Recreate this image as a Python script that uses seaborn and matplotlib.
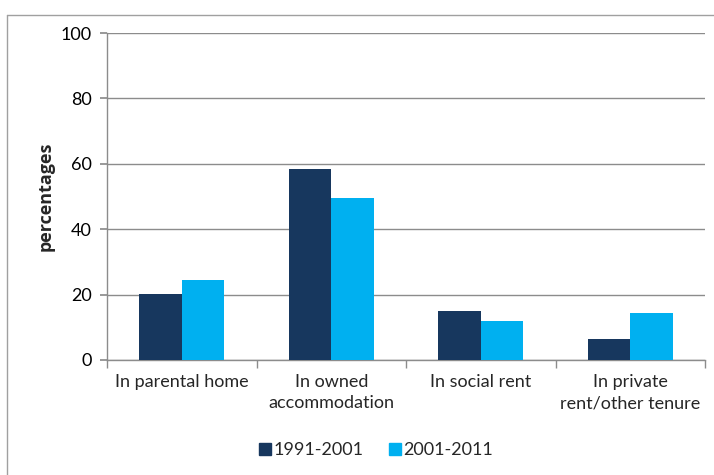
import matplotlib
matplotlib.use("Agg")
import matplotlib.pyplot as plt
import seaborn as sns
import pandas as pd
from matplotlib.lines import Line2D

categories = ["In parental home", "In owned\naccommodation", "In social rent", "In private\nrent/other tenure"]
series_names = ["1991-2001", "2001-2011"]
values_1991 = [20.2, 58.5, 15.0, 6.5]
values_2001 = [24.6, 49.5, 11.8, 14.4]
yticks = [0, 20, 40, 60, 80, 100]

colors = ["#17375E", "#00B0F0"]

rows = []
for c, v in zip(categories, values_1991):
    rows.append({"category": c, "period": series_names[0], "value": v})
for c, v in zip(categories, values_2001):
    rows.append({"category": c, "period": series_names[1], "value": v})
df = pd.DataFrame(rows)

sns.set_theme(style="white")
plt.rcParams["font.family"] = ["Lato", "DejaVu Sans"]

fig = plt.figure(figsize=(7.14, 4.75), dpi=100)
ax = fig.add_axes([107/714, 1-360/475, (705-107)/714, (360-33)/475])

sns.barplot(data=df, x="category", y="value", hue="period", palette=colors,
            order=categories, hue_order=series_names, width=0.57, gap=0,
            saturation=1, ax=ax, legend=False, zorder=3, linewidth=0, edgecolor="none")

ax.set_xlim(-0.5, 3.5)
ax.set_ylim(0, 100)
ax.set_yticks(yticks)
ax.set_yticklabels([str(t) for t in yticks], fontsize=13, color="#000000")
ax.yaxis.grid(True, color="#8C8C8C", linewidth=1.0, zorder=0)
ax.set_axisbelow(True)

for s in ["top", "right"]:
    ax.spines[s].set_visible(False)
ax.spines["left"].set_color("#8C8C8C")
ax.spines["bottom"].set_color("#8C8C8C")
ax.spines["left"].set_linewidth(1.0)
ax.spines["bottom"].set_linewidth(1.0)

ax.tick_params(axis="y", which="major", length=5, color="#8C8C8C", direction="out", pad=6, left=True)
ax.set_xticks(range(len(categories)))
ax.set_xticklabels(categories, fontsize=13, linespacing=1.4)
ax.tick_params(axis="x", which="major", length=0, pad=10)
ax.set_xticks([-0.5, 0.5, 1.5, 2.5, 3.5], minor=True)
ax.tick_params(axis="x", which="minor", length=6, color="#8C8C8C", direction="out", bottom=True)

ax.set_xlabel("")
ax.set_ylabel("percentages", fontsize=13, fontweight="bold", labelpad=4,
              family=["Open Sans", "DejaVu Sans"])

handles = [Line2D([0], [0], marker="s", linestyle="none", markersize=9,
                  markerfacecolor=colors[i], markeredgecolor=colors[i]) for i in range(2)]
fig.legend(handles, series_names, loc="center", bbox_to_anchor=(372/714, 1-450/475),
           ncol=2, frameon=False, fontsize=13, handletextpad=-0.3, columnspacing=1.0,
           handlelength=1.5)

# outer frame (left and top edges)
fig.add_artist(Line2D([7/714, 7/714], [0, 1-15/475], transform=fig.transFigure, color="#A0A0A0", linewidth=1))
fig.add_artist(Line2D([7/714, 1], [1-15/475, 1-15/475], transform=fig.transFigure, color="#A0A0A0", linewidth=1))

fig.savefig("out.png", dpi=100)
